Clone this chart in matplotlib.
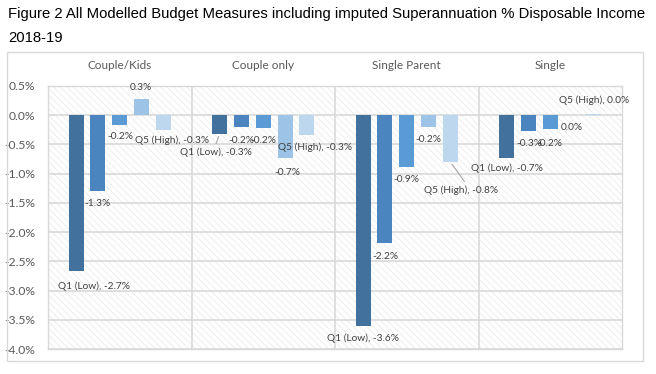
import numpy as np
import matplotlib
matplotlib.use("Agg")
import matplotlib.pyplot as plt
from matplotlib.patches import Rectangle

# data (% of disposable income)
groups = ["Couple/Kids", "Couple only", "Single Parent", "Single"]
series = ["Q1 (Low)", "Q2", "Q3", "Q4", "Q5 (High)"]
couple_kids = [-2.67, -1.29, -0.17, 0.27, -0.26]
couple_only = [-0.32, -0.21, -0.22, -0.74, -0.34]
single_parent = [-3.61, -2.18, -0.88, -0.20, -0.80]
single = [-0.73, -0.27, -0.24, 0.0, 0.02]
yticks = [0.5, 0.0, -0.5, -1.0, -1.5, -2.0, -2.5, -3.0, -3.5, -4.0]

colors = ["#41719c", "#4a85bf", "#5b9bd5", "#9dc3e6", "#bdd7ee"]
# label offsets in pixels (dx, dy downward) per group, per series
offsets = [
    [(17.5, 15), (0, 13), (1, 11.7), (-0.5, -12), (8.5, 10)],
    [(-3.7, 18.6), (0, 13.4), (0, 12.7), (2, 13.6), (8.3, 12.3)],
    [(0, 12.3), (0, 13.4), (0, 13), (0, 13), (11, 28.3)],
    [(0, 10.6), (0.5, 12.3), (-0.5, 14.3), (0, 12.5), (0, -13.5)],
]
leaders = {(1, 0): 0.48, (2, 4): 0.58}

data = np.array([couple_kids, couple_only, single_parent, single])

plt.rcParams['hatch.linewidth'] = 0.6
fig = plt.figure(figsize=(6.56, 3.74), dpi=100)

# chart border
fig.patches.append(Rectangle((7 / 656, 1 - 361 / 374), 636 / 656, 309 / 374,
                             transform=fig.transFigure, fill=False,
                             edgecolor="#d9d9d9", lw=1))

fig.text(8 / 656, 1 - 14 / 374,
         "Figure 2 All Modelled Budget Measures including imputed Superannuation % Disposable Income",
         family="Liberation Sans", fontsize=10.7, va="center", ha="left", color="black")
fig.text(8 / 656, 1 - 38 / 374, "2018-19",
         family="Liberation Sans", fontsize=10.7, va="center", ha="left", color="black")

ax = fig.add_axes([48 / 656, 1 - 349 / 374, 574 / 656, 263 / 374])
ax.add_patch(Rectangle((0, 0), 1, 1, transform=ax.transAxes, facecolor="white",
                       edgecolor="#ebebeb", lw=0, hatch="\\\\\\\\\\", zorder=0))

x = np.arange(len(groups))
step = 0.152
width = 0.105
font = "Lato"
for j, name in enumerate(series):
    xs = x + (j - 2) * step
    ax.bar(xs, data[:, j], width, color=colors[j], zorder=3)
    for i in range(len(groups)):
        v = data[i, j]
        txt = f"{v:.1f}%"
        if j in (0, 4):
            txt = f"{name}, {txt}"
        dx, dy = offsets[i][j]
        kw = {}
        if (i, j) in leaders:
            kw["arrowprops"] = dict(arrowstyle="-", color="#a6a6a6", lw=0.8,
                                    shrinkA=1, shrinkB=2,
                                    relpos=(leaders[(i, j)], 1.0))
        ax.annotate(txt, xy=(xs[i], v), xytext=(dx, -dy),
                    textcoords="offset pixels", ha="center", va="center",
                    fontsize=7.3, family=font, color="#404040", zorder=5, **kw)

ax.set_xlim(-0.5, 3.5)
ax.set_ylim(-4.0, 0.5)
ax.set_yticks(yticks)
ax.set_yticklabels([f"{t:.1f}%" for t in yticks], family=font, fontsize=8.7,
                   color="#595959")
ax.set_xticks(x)
ax.set_xticklabels(groups, family=font, fontsize=8.5, color="#595959")
ax.xaxis.set_ticks_position("top")
ax.tick_params(axis="both", length=0)
ax.tick_params(axis="x", pad=11)
ax.tick_params(axis="y", pad=9)
for xb in [0.5, 1.5, 2.5]:
    ax.axvline(xb, color="#d9d9d9", lw=1.2, zorder=1)
ax.yaxis.grid(True, color="#d9d9d9", lw=1.2, zorder=1)
ax.set_axisbelow(True)
for s in ax.spines.values():
    s.set_color("#d9d9d9")
    s.set_linewidth(1)

fig.savefig("out.png", dpi=100)
